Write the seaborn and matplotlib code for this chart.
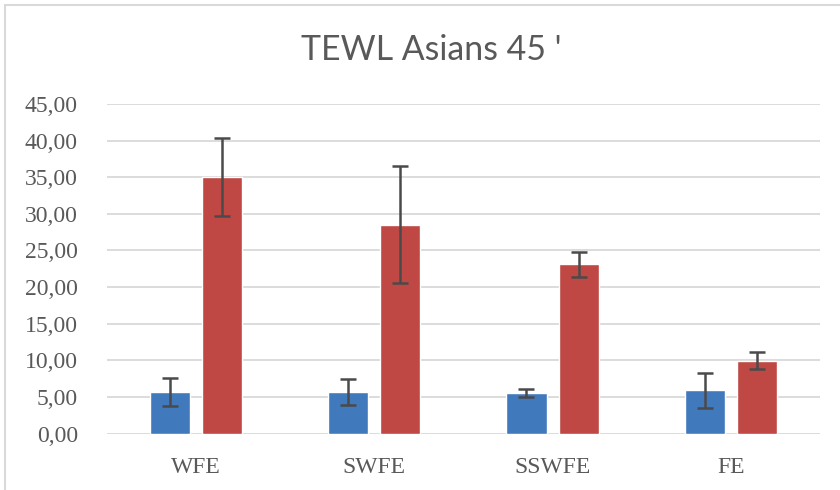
# TEWL Asians 45' grouped bar chart with error bars
import matplotlib
matplotlib.use("Agg")
import matplotlib.pyplot as plt
from matplotlib.patches import Rectangle
from matplotlib.ticker import FuncFormatter, MultipleLocator
import seaborn as sns
import pandas as pd

categories = ["WFE", "SWFE", "SSWFE", "FE"]
series_names = ["Series 1", "Series 2"]
blue_values = [5.7, 5.7, 5.5, 5.9]
blue_errors = [1.9, 1.8, 0.55, 2.4]
red_values = [35.0, 28.5, 23.1, 9.95]
red_errors = [5.3, 8.0, 1.75, 1.2]

df = pd.DataFrame({
    "cat": categories * 2,
    "series": [series_names[0]] * 4 + [series_names[1]] * 4,
    "value": blue_values + red_values,
    "err": blue_errors + red_errors,
})

sns.set_style("white")
plt.rcParams["font.family"] = ["Lato", "DejaVu Sans"]

fig = plt.figure(figsize=(8.4, 4.9), dpi=100)
ax = fig.add_axes([0.1274, 0.1153, 0.8486, 0.6725])

sns.barplot(
    data=df,
    x="cat",
    y="value",
    hue="series",
    order=categories,
    hue_order=series_names,
    palette=["#4179BD", "#BF4744"],
    saturation=1,
    width=0.585,
    gap=0.23,
    errorbar=None,
    legend=False,
    ax=ax,
)

# error bars at the centres of the bars seaborn drew
for patch, (_, row) in zip(ax.patches, df.iterrows()):
    cx = patch.get_x() + patch.get_width() / 2
    ax.errorbar(cx, patch.get_height(), yerr=row["err"], fmt="none",
                ecolor="#4A4A4A", elinewidth=1.8, capsize=5.5, capthick=1.8,
                zorder=4)

ax.set_xlim(-0.5, len(categories) - 0.5)
ax.set_ylim(0, 45)
ax.yaxis.set_major_locator(MultipleLocator(5))
ax.yaxis.set_major_formatter(FuncFormatter(lambda v, p: f"{v:.2f}".replace(".", ",")))
ax.grid(axis="y", color="#D9D9D9", linewidth=1.3)
ax.set_axisbelow(True)
for s in ax.spines.values():
    s.set_visible(False)
ax.set_xlabel("")
ax.set_ylabel("")
ax.tick_params(axis="y", length=0, pad=21, labelsize=17, labelcolor="#595959")
ax.tick_params(axis="x", length=0, pad=17, labelsize=17, labelcolor="#595959")
for lab in ax.get_xticklabels() + ax.get_yticklabels():
    lab.set_family(["Liberation Serif", "DejaVu Serif"])

fig.text(0.513, 1 - 50 / 490, "TEWL Asians 45 '", ha="center", va="center",
         fontsize=24.4, color="#595959")

# chart frame (cut at the right and bottom in the reference)
fig.patches.append(Rectangle((5 / 840, -0.05), 1.1, 1.05 - 5 / 490,
                             transform=fig.transFigure, fill=False,
                             edgecolor="#D9D9D9", linewidth=1.5))

fig.savefig("out.png", dpi=100)
